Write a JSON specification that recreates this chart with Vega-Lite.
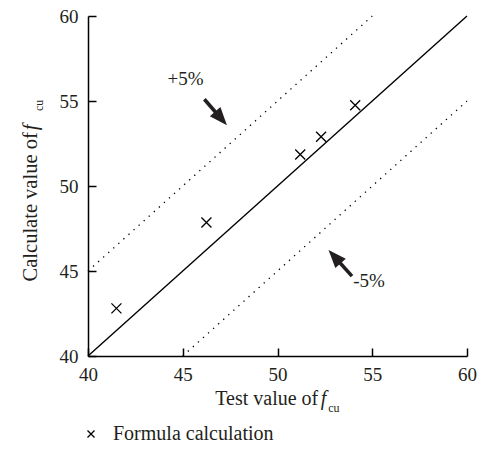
{
  "$schema": "https://vega.github.io/schema/vega-lite/v6.json",
  "width": 379,
  "height": 340,
  "autosize": "none",
  "padding": {"left": 88, "top": 16, "right": 12, "bottom": 103},
  "background": "white",
  "config": {
    "view": {"stroke": null},
    "font": "Liberation Serif",
    "axis": {
      "grid": false,
      "domainColor": "black",
      "domainWidth": 1.5,
      "tickColor": "black",
      "tickWidth": 1.5,
      "tickSize": -8,
      "labelFlush": false,
      "labelFont": "Liberation Serif",
      "labelFontSize": 19,
      "labelColor": "#231f20",
      "title": null
    },
    "legend": {
      "orient": "none",
      "legendX": -7,
      "legendY": 408,
      "padding": 0,
      "labelFont": "Liberation Serif",
      "labelFontSize": 20,
      "labelColor": "#231f20",
      "labelLimit": 400,
      "symbolSize": 49,
      "symbolStrokeWidth": 1.3,
      "symbolStrokeColor": "black",
      "labelOffset": 12
    }
  },
  "datasets": {
    "points": [
      {"x": 41.5, "y": 42.8, "series": "Formula calculation"},
      {"x": 46.25, "y": 47.85, "series": "Formula calculation"},
      {"x": 51.2, "y": 51.85, "series": "Formula calculation"},
      {"x": 52.3, "y": 52.9, "series": "Formula calculation"},
      {"x": 54.1, "y": 54.75, "series": "Formula calculation"}
    ],
    "diag": [{"x": 40, "y": 40}, {"x": 60, "y": 60}],
    "bands": [
      {"line": "+5%", "x": 40, "y": 45},
      {"line": "+5%", "x": 55, "y": 60},
      {"line": "-5%", "x": 45, "y": 40},
      {"line": "-5%", "x": 60, "y": 55}
    ],
    "shafts": [
      {"x": 46.14, "y": 55.1, "x2": 47.02, "y2": 53.97},
      {"x": 53.93, "y": 44.7, "x2": 53.01, "y2": 45.84}
    ],
    "headUp": [{"x": 47.02, "y": 53.97}],
    "headDown": [{"x": 53.01, "y": 45.84}],
    "notes": [
      {"label": "+5%", "x": 45.15, "y": 56.28},
      {"label": "-5%", "x": 54.83, "y": 44.41}
    ],
    "xtMain": [{"t": "Test value of", "x": 52.15, "y": 37.1}],
    "xtF": [{"t": "f", "x": 52.28, "y": 37.1}],
    "xtSub": [{"t": "cu", "x": 52.68, "y": 36.69}],
    "ytMain": [{"t": "Calculate value of", "x": 37.32, "y": 53.16}],
    "ytF": [{"t": "f", "x": 37.32, "y": 53.28}],
    "ytSub": [{"t": "cu", "x": 37.64, "y": 54.41}]
  },
  "encoding": {
    "x": {"field": "x", "type": "quantitative", "scale": {"domain": [40, 60], "nice": false, "zero": false}, "axis": {"values": [40, 45, 50, 55, 60], "labelPadding": 17}},
    "y": {"field": "y", "type": "quantitative", "scale": {"domain": [40, 60], "nice": false, "zero": false}, "axis": {"values": [40, 45, 50, 55, 60], "labelPadding": 18}}
  },
  "layer": [
    {
      "data": {"name": "diag"},
      "mark": {"type": "line", "color": "black", "strokeWidth": 1.4},
      "encoding": {}
    },
    {
      "data": {"name": "bands"},
      "mark": {"type": "line", "color": "black", "strokeWidth": 1.3, "strokeDash": [1.3, 5.5]},
      "encoding": {"detail": {"field": "line"}}
    },
    {
      "data": {"name": "shafts"},
      "mark": {"type": "rule", "color": "#231f20", "strokeWidth": 3.6},
      "encoding": {"x2": {"field": "x2"}, "y2": {"field": "y2"}}
    },
    {
      "data": {"name": "headUp"},
      "mark": {"type": "point", "shape": "M0,-1L0.78,1L-0.78,1Z", "filled": true, "color": "#231f20", "opacity": 1, "size": 324, "angle": 139},
      "encoding": {}
    },
    {
      "data": {"name": "headDown"},
      "mark": {"type": "point", "shape": "M0,-1L0.78,1L-0.78,1Z", "filled": true, "color": "#231f20", "opacity": 1, "size": 324, "angle": 318},
      "encoding": {}
    },
    {
      "data": {"name": "notes"},
      "mark": {"type": "text", "fontSize": 19, "color": "#231f20", "align": "center", "baseline": "middle"},
      "encoding": {"text": {"field": "label"}}
    },
    {
      "data": {"name": "points"},
      "mark": {"type": "point", "filled": false, "color": "black", "strokeWidth": 1.3, "size": 100, "opacity": 1},
      "encoding": {
        "shape": {"field": "series", "type": "nominal", "scale": {"range": ["M-1,-1L1,1M-1,1L1,-1"]}, "legend": {"title": null}}
      }
    },
    {
      "data": {"name": "xtMain"},
      "mark": {"type": "text", "fontSize": 20, "color": "#231f20", "align": "right", "baseline": "alphabetic"},
      "encoding": {"text": {"field": "t"}}
    },
    {
      "data": {"name": "xtF"},
      "mark": {"type": "text", "fontSize": 20, "fontStyle": "italic", "color": "#231f20", "align": "left", "baseline": "alphabetic"},
      "encoding": {"text": {"field": "t"}}
    },
    {
      "data": {"name": "xtSub"},
      "mark": {"type": "text", "fontSize": 12, "color": "#231f20", "align": "left", "baseline": "alphabetic"},
      "encoding": {"text": {"field": "t"}}
    },
    {
      "data": {"name": "ytMain"},
      "mark": {"type": "text", "fontSize": 20.5, "color": "#231f20", "align": "right", "baseline": "alphabetic", "angle": 270},
      "encoding": {"text": {"field": "t"}}
    },
    {
      "data": {"name": "ytF"},
      "mark": {"type": "text", "fontSize": 20.5, "fontStyle": "italic", "color": "#231f20", "align": "left", "baseline": "alphabetic", "angle": 270},
      "encoding": {"text": {"field": "t"}}
    },
    {
      "data": {"name": "ytSub"},
      "mark": {"type": "text", "fontSize": 12, "color": "#231f20", "align": "left", "baseline": "alphabetic", "angle": 270},
      "encoding": {"text": {"field": "t"}}
    }
  ]
}
